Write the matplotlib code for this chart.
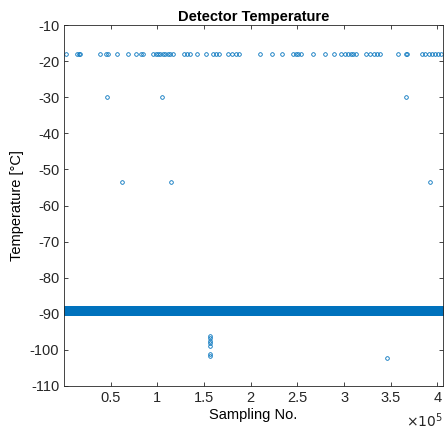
import numpy as np
import matplotlib
matplotlib.use('agg')
import matplotlib.pyplot as plt

plt.rcParams['font.family'] = ['Liberation Sans', 'DejaVu Sans']
plt.rcParams['axes.unicode_minus'] = False

# points along the upper row (~ -18 degC), sampling no. in units of 1e5
top_x = [0.02, 0.14, 0.16, 0.17, 0.39, 0.45, 0.47, 0.57, 0.69, 0.77, 0.82, 0.85,
         0.95, 0.98, 1.01, 1.03, 1.06, 1.08, 1.11, 1.14, 1.17, 1.29, 1.32, 1.35,
         1.42, 1.52, 1.60, 1.63, 1.66, 1.76, 1.80, 1.84, 1.87, 2.10, 2.23, 2.34,
         2.45, 2.48, 2.51, 2.54, 2.67, 2.80, 2.89, 2.97, 3.01, 3.04, 3.07, 3.10,
         3.13, 3.24, 3.28, 3.32, 3.35, 3.38, 3.58, 3.66, 3.67, 3.83, 3.87, 3.91,
         3.94, 3.97, 4.01, 4.04]
top_y = -18.0

# outliers
out_x = [0.46, 1.05, 3.66, 0.62, 1.15, 3.92,
         1.56, 1.56, 1.56, 1.56, 1.56, 1.56, 1.56, 3.46]
out_y = [-30.0, -30.0, -30.0, -53.6, -53.6, -53.6,
         -96.2, -96.8, -97.5, -98.2, -99.0, -101.0, -101.7, -102.2]

# main band levels (degC) covering all sampling numbers
band_levels = [-88.3, -88.8, -89.3, -89.8]
n_samples = 406000

xticks = [0.5, 1, 1.5, 2, 2.5, 3, 3.5, 4]
xticklabels = ['0.5', '1', '1.5', '2', '2.5', '3', '3.5', '4']
yticks = [-110, -100, -90, -80, -70, -60, -50, -40, -30, -20, -10]

c = '#0072BD'
fig = plt.figure(figsize=(4.45, 4.32), dpi=100)
ax = fig.add_axes([0.144, 0.1065, 0.8515, 0.8355])

samp = np.arange(0, n_samples, 400) / 1e5
for lv in band_levels:
    ax.plot(samp, np.full(samp.shape, lv), 'o', mfc='none', mec=c, ms=2.6, mew=0.6)

ax.plot(top_x, [top_y] * len(top_x), 'o', mfc='none', mec=c, ms=2.6, mew=0.6)
ax.plot(out_x, out_y, 'o', mfc='none', mec=c, ms=2.6, mew=0.6)

ax.set_xlim(0, n_samples / 1e5)
ax.set_ylim(-110, -10)
ax.set_xticks(xticks)
ax.set_xticklabels(xticklabels)
ax.set_yticks(yticks)
ax.tick_params(direction='in', top=True, right=True, labelsize=10.5,
               colors='#262626', length=3, width=0.6)
for s in ax.spines.values():
    s.set_color('#262626')
    s.set_linewidth(0.6)

ax.set_title('Detector Temperature', fontsize=10.5, fontweight='bold', pad=3)
ax.set_xlabel('Sampling No.', fontsize=10.5, labelpad=2)
ax.set_ylabel('Temperature [°C]', fontsize=10.5, labelpad=4)
fig.text(0.995, 0.004, r'$\times10^5$', ha='right', va='bottom',
         fontsize=10, color='#262626')

fig.savefig('out.png', dpi=100)
